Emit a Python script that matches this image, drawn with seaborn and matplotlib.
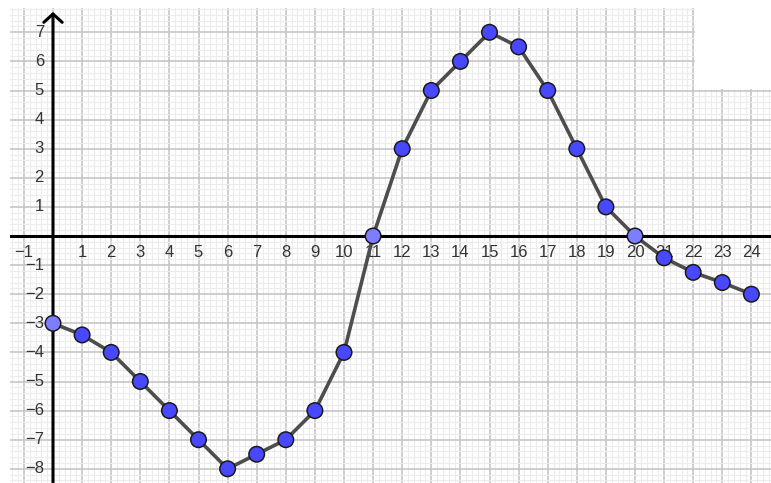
import numpy as np
import pandas as pd
import matplotlib.pyplot as plt
from matplotlib.patches import Rectangle
import seaborn as sns

sns.set_theme(style="white")
plt.rcParams["font.family"] = ["Liberation Sans", "DejaVu Sans"]

# data
x_vals = list(range(0, 25))
y_vals = [-3, -3.4, -4, -5, -6, -7, -8, -7.5, -7, -6, -4, 0, 3, 5, 6, 7,
          6.5, 5, 3, 1, 0, -0.75, -1.25, -1.6, -2]
point_kind = ["fixed" if x in (0, 11, 20) else "free" for x in x_vals]
x_tick_labels = [-1] + list(range(1, 25))
y_tick_labels = list(range(-8, 0)) + list(range(1, 8))

df = pd.DataFrame({"x": x_vals, "y": y_vals, "kind": point_kind})

# pixel geometry of the reference view
W, H = 771, 483
unit = 29.1
x0_px, y0_px = 53, 236
left_px, top_px = 10, 8

fig = plt.figure(figsize=(W / 100, H / 100), dpi=100)
fig.patch.set_facecolor("white")
ax = fig.add_axes([left_px / W, 0, (W - left_px) / W, (H - top_px) / H])
xmin, xmax = (left_px - x0_px) / unit, (W - x0_px) / unit
ymin, ymax = (y0_px - H) / unit, (y0_px - top_px) / unit
ax.set_xlim(xmin, xmax)
ax.set_ylim(ymin, ymax)

# graph paper grid
ax.set_xticks(np.arange(-1, 25, 1))
ax.set_yticks(np.arange(-8, 8, 1))
ax.set_xticks(np.arange(-1.4, 24.8, 0.2), minor=True)
ax.set_yticks(np.arange(-8.4, 7.9, 0.2), minor=True)
ax.grid(which="major", color="#c6c6c6", lw=1.2)
ax.grid(which="minor", color="#ececec", lw=0.8)
ax.set_axisbelow(True)
ax.tick_params(which="both", length=0, labelbottom=False, labelleft=False)
for s in ax.spines.values():
    s.set_visible(False)

# white panel in the top-right corner
ax.add_patch(Rectangle((22.06, 5.04), 10, 10, facecolor="white",
                       edgecolor="none", zorder=1))

# axes
ax.axhline(0, color="black", lw=2.2, zorder=2)
ax.annotate("", xy=(0, 7.70), xytext=(0, ymin),
            arrowprops=dict(arrowstyle="->,head_length=0.5,head_width=0.55",
                            lw=2.2, color="black", shrinkA=0, shrinkB=0),
            zorder=2)

# tick labels
for v in x_tick_labels:
    ax.text(v, -0.57, str(v).replace("-", "\u2212"), ha="center", va="center",
            fontsize=12, color="#333333", zorder=2)
for v in y_tick_labels:
    ax.text(-0.31, v, str(v).replace("-", "\u2212"), ha="right", va="center",
            fontsize=12, color="#333333", zorder=2)

# curve and points
sns.lineplot(data=df, x="x", y="y", color="#4d4d4d", lw=2.6, ax=ax, zorder=3)
sns.scatterplot(data=df, x="x", y="y", hue="kind",
                palette={"free": "#4848ff", "fixed": "#7d7dff"},
                s=125, edgecolor="#1a1a1a", linewidth=1.1, legend=False,
                ax=ax, zorder=4)
ax.set_xlabel("")
ax.set_ylabel("")

fig.savefig("out.png", dpi=100, facecolor="white")
